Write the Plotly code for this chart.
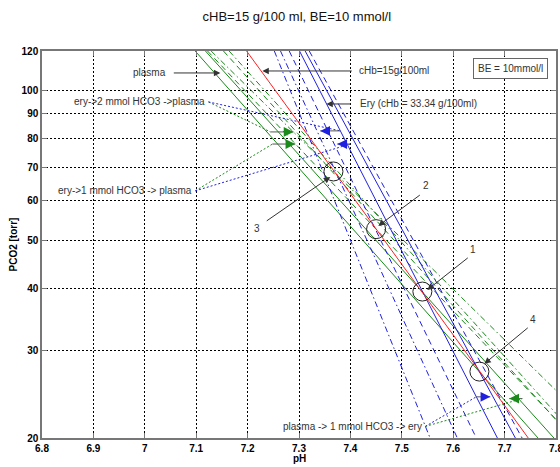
import math
import plotly.graph_objects as go

# ---------------- data ----------------
pco2_ends = [120, 20]                       # torr, line end points (top/bottom of chart)
ph_blood = [7.198, 7.746]                   # cHb = 15 g/100 ml (red)
# plasma lines (green)
ph_plasma = [7.118, 7.796]
ph_plasma_m1 = [7.098, 7.765]
ph_plasma_p1 = [7.122, 7.834]
ph_plasma_p1b = [7.153, 7.832]
ph_plasma_p2 = [7.129, 7.894]
ph_plasma_p2b = [7.164, 7.843]
# erythrocyte lines (blue, cHb 33.34 g/100 ml)
ph_ery = [7.301, 7.686]
ph_ery_m1 = [7.312, 7.721]
ph_ery_p1 = [7.281, 7.645]
ph_ery_p1b = [7.320, 7.734]
ph_ery_p2 = [7.264, 7.608]
ph_ery_p2b = [7.252, 7.555]

point_ph = [7.540, 7.450, 7.367, 7.651]
point_pco2 = [39.4, 52.6, 68.7, 27.2]
point_labels = ["1", "2", "3", "4"]

x_ticks = [6.8, 6.9, 7.0, 7.1, 7.2, 7.3, 7.4, 7.5, 7.6, 7.7, 7.8]
x_ticktext = ["6.8", "6.9", "7", "7.1", "7.2", "7.3", "7.4", "7.5", "7.6", "7.7", "7.8"]
y_ticks = [20, 30, 40, 50, 60, 70, 80, 90, 100, 120]
y_ticktext = ["20", "30", "40", "50", "60", "70", "80", "90", "100", "120"]

GREEN = "#1a8a1a"
BLUE = "#2020e0"
RED = "#ff2020"
DASH = "6px,4px"
DASHDOT = "6px,3px,1.5px,3px"

fig = go.Figure()

lines = [
    (ph_plasma, GREEN, "solid"),
    (ph_plasma_m1, GREEN, "solid"),
    (ph_plasma_p1, GREEN, DASH),
    (ph_plasma_p1b, GREEN, DASH),
    (ph_plasma_p2, GREEN, DASHDOT),
    (ph_plasma_p2b, GREEN, DASHDOT),
    (ph_ery, BLUE, "solid"),
    (ph_ery_m1, BLUE, "solid"),
    (ph_ery_p1, BLUE, DASH),
    (ph_ery_p1b, BLUE, DASH),
    (ph_ery_p2, BLUE, DASHDOT),
    (ph_ery_p2b, BLUE, DASHDOT),
    (ph_blood, RED, "solid"),
]
for ph, col, dash in lines:
    fig.add_trace(go.Scatter(x=ph, y=pco2_ends, mode="lines",
                             line=dict(color=col, width=1, dash=dash),
                             hoverinfo="skip"))

fig.add_trace(go.Scatter(x=point_ph, y=point_pco2, mode="markers",
                         marker=dict(symbol="circle-open", size=19, color="#222",
                                     line=dict(color="#222", width=1)),
                         hoverinfo="skip"))

L = math.log10
ann = []
TXT = dict(family="Liberation Sans, Arial, sans-serif", size=10, color="#333")


def arrow(x, y, ax, ay, color="#333"):
    ann.append(dict(x=x, y=L(y), ax=ax, ay=L(ay), xref="x", yref="y",
                    axref="x", ayref="y", text="", showarrow=True,
                    arrowhead=2, arrowsize=1.3, arrowwidth=1, arrowcolor=color))


def label(x, y, text, anchor="center"):
    ann.append(dict(x=x, y=L(y), xref="x", yref="y", text=text,
                    showarrow=False, xanchor=anchor, yanchor="middle", font=TXT))


# labelled lines
arrow(7.147, 108.4, 7.0535, 108.4)
label(7.0457, 108.4, "plasma", "right")
arrow(7.2286, 109.4, 7.4056, 109.4)
label(7.4134, 109.4, "cHb=15g/100ml", "left")
arrow(7.3531, 93.9, 7.4037, 93.9)
label(7.4149, 93.9, "Ery (cHb = 33.34 g/100ml)", "left")

# numbered points
arrow(7.3609, 67.0, 7.2344, 54.4)
label(7.2189, 52.7, "3")
arrow(7.4543, 53.4, 7.538, 61.9)
label(7.5477, 64.3, "2")
arrow(7.5496, 39.7, 7.6313, 46.3)
label(7.639, 47.8, "1")
arrow(7.6605, 28.2, 7.748, 33.5)
label(7.7557, 34.6, "4")

# HCO3 shift labels with dotted connectors and coloured arrows
shift_groups = [
    ("ery->2 mmol HCO3 ->plasma", (7.1239, 94.8), (7.2445, 7.2893, 82.5), (7.3803, 7.3414, 82.9)),
    ("ery->1 mmol HCO3 -> plasma", (7.0982, 62.8), (7.2484, 7.2928, 78.0), (7.3998, 7.3745, 78.0)),
    ("plasma -> 1 mmol HCO3 -> ery", (7.5457, 21.1), (7.7344, 7.7091, 24.0), (7.6449, 7.6722, 24.2)),
]
for text, (tx, ty), g, b in shift_groups:
    label(tx - 0.002, ty, text, "right")
    for (tail, tip, pc), col in ((g, GREEN), (b, BLUE)):
        fig.add_trace(go.Scatter(x=[tx, tail], y=[ty, pc], mode="lines",
                                 line=dict(color=col, width=1, dash="2px,2px"),
                                 hoverinfo="skip"))
        fig.add_trace(go.Scatter(x=[tail, tip], y=[pc, pc], mode="lines",
                                 line=dict(color="#555", width=1),
                                 hoverinfo="skip"))
        direction = 1 if tip > tail else -1
        ann.append(dict(x=tip, y=L(pc), xref="x", yref="y", ax=-8 * direction, ay=0,
                        text="", showarrow=True, arrowhead=2, arrowsize=1.3,
                        arrowwidth=1.5, arrowcolor=col))

# BE box
ann.append(dict(x=0.912, y=0.956, xref="paper", yref="paper", text="BE = 10mmol/l",
                xanchor="center", yanchor="middle",
                showarrow=False, font=TXT, bordercolor="#666", borderwidth=1,
                borderpad=4, bgcolor="white"))
# axis titles
ann.append(dict(x=0.5, y=0, xref="paper", yref="paper", yshift=-20, text="pH",
                showarrow=False, yanchor="middle",
                font=dict(family="Liberation Sans, Arial", size=10, color="black", weight="bold")))
ann.append(dict(x=-0.0545, y=0.5, xref="paper", yref="paper", text="PCO2 [torr]",
                textangle=-90, showarrow=False, xanchor="center", yanchor="middle",
                font=dict(family="Liberation Sans, Arial", size=10, color="black", weight="bold")))

tickfont = dict(family="Liberation Sans, Arial", size=10, color="black", weight="bold")
axis_common = dict(showgrid=True, gridcolor="black", griddash="2px,2px", gridwidth=1,
                   showline=True, linecolor="#777", linewidth=1.5, mirror="ticks",
                   ticks="inside", ticklen=5, tickcolor="#777", zeroline=False,
                   tickfont=tickfont, ticklabeloverflow="allow", automargin=False)

fig.update_layout(
    width=560, height=467,
    margin=dict(l=42, r=4, t=51, b=29),
    paper_bgcolor="white", plot_bgcolor="white",
    showlegend=False,
    title=dict(text="cHB=15 g/100 ml, BE=10 mmol/l", x=0.53, xanchor="center",
               y=1 - 16 / 467, yanchor="middle",
               font=dict(family="Liberation Sans, Arial", size=13, color="#111")),
    xaxis=dict(range=[6.8, 7.8], tickvals=x_ticks, ticktext=x_ticktext, **axis_common),
    yaxis=dict(type="log", range=[L(20), L(120)], tickvals=y_ticks, ticktext=y_ticktext,
               **axis_common),
    annotations=ann,
)

fig.write_html("out.html")
